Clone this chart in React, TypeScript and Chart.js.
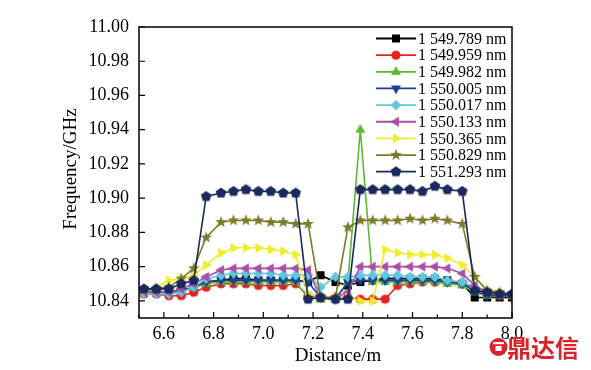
import React, { useEffect, useRef } from 'react';
import { Chart, registerables } from 'chart.js';

Chart.register(...registerables);

// Distance (m)
const distances = [6.52, 6.57, 6.62, 6.67, 6.72, 6.77, 6.83, 6.88, 6.93, 6.98, 7.03, 7.08, 7.13, 7.18, 7.23, 7.29, 7.34, 7.39, 7.44, 7.49, 7.54, 7.59, 7.64, 7.69, 7.74, 7.80, 7.85, 7.90, 7.95, 8.00];

const seriesLabels = ['1 549.789 nm', '1 549.959 nm', '1 549.982 nm', '1 550.005 nm', '1 550.017 nm', '1 550.133 nm', '1 550.365 nm', '1 550.829 nm', '1 551.293 nm'];

const s1549_789 = [10.845, 10.845, 10.845, 10.846, 10.848, 10.851, 10.852, 10.853, 10.853, 10.852, 10.852, 10.852, 10.852, 10.851, 10.855, 10.851, 10.849, 10.851, 10.852, 10.853, 10.853, 10.853, 10.853, 10.853, 10.852, 10.850, 10.842, 10.842, 10.842, 10.842];
const s1549_959 = [10.844, 10.844, 10.843, 10.843, 10.845, 10.848, 10.850, 10.850, 10.850, 10.849, 10.849, 10.849, 10.850, 10.843, 10.842, 10.842, 10.842, 10.841, 10.841, 10.841, 10.849, 10.850, 10.851, 10.851, 10.851, 10.850, 10.847, 10.844, 10.843, 10.843];
const s1549_982 = [10.845, 10.845, 10.845, 10.846, 10.848, 10.850, 10.851, 10.851, 10.851, 10.851, 10.851, 10.851, 10.851, 10.842, 10.841, 10.841, 10.851, 10.940, 10.851, 10.851, 10.851, 10.851, 10.851, 10.851, 10.850, 10.849, 10.845, 10.843, 10.843, 10.843];
const s1550_005 = [10.845, 10.845, 10.845, 10.846, 10.848, 10.851, 10.852, 10.852, 10.852, 10.852, 10.852, 10.852, 10.852, 10.851, 10.842, 10.841, 10.851, 10.852, 10.852, 10.852, 10.852, 10.852, 10.852, 10.852, 10.851, 10.850, 10.846, 10.843, 10.843, 10.843];
const s1550_017 = [10.844, 10.844, 10.844, 10.845, 10.848, 10.853, 10.855, 10.856, 10.856, 10.856, 10.856, 10.855, 10.855, 10.855, 10.848, 10.854, 10.854, 10.855, 10.855, 10.855, 10.855, 10.854, 10.854, 10.854, 10.852, 10.851, 10.848, 10.845, 10.844, 10.844];
const s1550_133 = [10.845, 10.845, 10.845, 10.847, 10.850, 10.854, 10.858, 10.859, 10.859, 10.859, 10.859, 10.859, 10.859, 10.858, 10.842, 10.842, 10.845, 10.860, 10.860, 10.860, 10.860, 10.860, 10.860, 10.860, 10.859, 10.856, 10.849, 10.845, 10.844, 10.844];
const s1550_365 = [10.846, 10.848, 10.852, 10.853, 10.855, 10.861, 10.868, 10.871, 10.871, 10.871, 10.870, 10.869, 10.867, 10.844, 10.842, 10.842, 10.842, 10.840, 10.840, 10.870, 10.868, 10.867, 10.867, 10.867, 10.865, 10.861, 10.854, 10.846, 10.845, 10.844];
const s1550_829 = [10.846, 10.847, 10.848, 10.853, 10.859, 10.877, 10.886, 10.887, 10.887, 10.887, 10.886, 10.886, 10.885, 10.885, 10.842, 10.842, 10.883, 10.887, 10.887, 10.887, 10.887, 10.888, 10.887, 10.888, 10.887, 10.885, 10.854, 10.846, 10.845, 10.844];
const s1551_293 = [10.847, 10.847, 10.847, 10.850, 10.852, 10.901, 10.903, 10.904, 10.905, 10.904, 10.904, 10.903, 10.903, 10.841, 10.842, 10.841, 10.841, 10.905, 10.905, 10.905, 10.905, 10.905, 10.904, 10.907, 10.905, 10.904, 10.846, 10.845, 10.844, 10.844];

const seriesValues = [s1549_789, s1549_959, s1549_982, s1550_005, s1550_017, s1550_133, s1550_365, s1550_829, s1551_293];
const seriesColors = ['#000000', '#e8211c', '#5db832', '#1c3f94', '#5ec8dc', '#a94ea8', '#eeee2e', '#7b7b2b', '#1b2a5c'];
const seriesMarkers = ['square', 'circle', 'triangle', 'down', 'diamond', 'left', 'right', 'star', 'pentagon'];

const xTicks = [6.6, 6.8, 7.0, 7.2, 7.4, 7.6, 7.8, 8.0];
const xMinorTicks = [6.5, 6.7, 6.9, 7.1, 7.3, 7.5, 7.7, 7.9];
const yTicks = [10.84, 10.86, 10.88, 10.90, 10.92, 10.94, 10.96, 10.98, 11.0];

const xTitle = 'Distance/m';
const yTitle = 'Frequency/GHz';
const watermark = '鼎达信';

const SERIF = '"Liberation Serif", "Times New Roman", serif';

function makeMarker(kind: string, color: string): HTMLCanvasElement {
  const size = 14;
  const c = document.createElement('canvas');
  c.width = size;
  c.height = size;
  const ctx = c.getContext('2d')!;
  const cx = size / 2;
  const cy = size / 2;
  ctx.fillStyle = color;
  ctx.beginPath();
  const poly = (n: number, r: number, startDeg: number) => {
    for (let i = 0; i < n; i++) {
      const a = ((startDeg + (360 / n) * i) * Math.PI) / 180;
      const px = cx + r * Math.cos(a);
      const py = cy + r * Math.sin(a);
      if (i === 0) ctx.moveTo(px, py);
      else ctx.lineTo(px, py);
    }
    ctx.closePath();
  };
  switch (kind) {
    case 'square':
      ctx.rect(cx - 4, cy - 4, 8, 8);
      break;
    case 'circle':
      ctx.arc(cx, cy, 4.6, 0, Math.PI * 2);
      break;
    case 'triangle':
      poly(3, 5.8, -90);
      break;
    case 'down':
      poly(3, 5.8, 90);
      break;
    case 'left':
      poly(3, 5.8, 180);
      break;
    case 'right':
      poly(3, 5.8, 0);
      break;
    case 'diamond':
      poly(4, 5.2, -90);
      break;
    case 'pentagon':
      poly(5, 5.6, -90);
      break;
    case 'star': {
      for (let i = 0; i < 10; i++) {
        const r = i % 2 === 0 ? 6.2 : 2.6;
        const a = ((-90 + 36 * i) * Math.PI) / 180;
        const px = cx + r * Math.cos(a);
        const py = cy + r * Math.sin(a);
        if (i === 0) ctx.moveTo(px, py);
        else ctx.lineTo(px, py);
      }
      ctx.closePath();
      break;
    }
  }
  ctx.fill();
  return c;
}

export default function App() {
  const canvasRef = useRef<HTMLCanvasElement | null>(null);

  useEffect(() => {
    const canvas = canvasRef.current;
    if (!canvas) return;
    const markers = seriesMarkers.map((m, i) => makeMarker(m, seriesColors[i]));

    const datasets = seriesValues.map((vals, i) => ({
      label: seriesLabels[i],
      data: distances.map((d, k) => ({ x: d, y: vals[k] })),
      borderColor: seriesColors[i],
      backgroundColor: seriesColors[i],
      borderWidth: 1.6,
      pointStyle: markers[i] as any,
      pointRadius: 5,
      tension: 0,
      order: seriesValues.length - 1 - i,
    }));

    const decor = {
      id: 'decor',
      afterDraw(chart: any) {
        const { ctx, chartArea: a, scales } = chart;
        const xs = scales.x;
        const ys = scales.y;
        ctx.save();
        // frame
        ctx.strokeStyle = '#000';
        ctx.lineWidth = 1.5;
        ctx.strokeRect(a.left, a.top, a.right - a.left, a.bottom - a.top);
        // inward ticks
        ctx.lineWidth = 1.2;
        ctx.beginPath();
        for (const v of xTicks) {
          const px = xs.getPixelForValue(v);
          ctx.moveTo(px, a.bottom);
          ctx.lineTo(px, a.bottom - 6);
        }
        for (const v of xMinorTicks) {
          const px = xs.getPixelForValue(v);
          ctx.moveTo(px, a.bottom);
          ctx.lineTo(px, a.bottom - 3.5);
        }
        for (const v of yTicks) {
          const py = ys.getPixelForValue(v);
          ctx.moveTo(a.left, py);
          ctx.lineTo(a.left + 6, py);
        }
        ctx.stroke();

        // legend
        ctx.font = `16px ${SERIF}`;
        ctx.textBaseline = 'middle';
        ctx.textAlign = 'left';
        seriesLabels.forEach((lab, i) => {
          const y = 38.5 + i * 16.65;
          ctx.strokeStyle = seriesColors[i];
          ctx.lineWidth = 1.8;
          ctx.beginPath();
          ctx.moveTo(376, y);
          ctx.lineTo(416, y);
          ctx.stroke();
          const m = markers[i];
          ctx.drawImage(m, 396 - m.width / 2, y - m.height / 2);
          ctx.fillStyle = '#000';
          ctx.fillText(lab, 418, y + 1);
        });

        // axis titles
        ctx.fillStyle = '#000';
        ctx.font = `19px ${SERIF}`;
        ctx.textAlign = 'center';
        ctx.textBaseline = 'middle';
        ctx.fillText(xTitle, 338, 356);
        ctx.save();
        ctx.translate(71, 169);
        ctx.rotate(-Math.PI / 2);
        ctx.fillText(yTitle, 0, 0);
        ctx.restore();

        // watermark
        ctx.fillStyle = '#d9232a';
        ctx.beginPath();
        ctx.arc(498.5, 347, 9, 0, Math.PI * 2);
        ctx.fill();
        ctx.fillStyle = '#fff';
        ctx.fillRect(493, 342, 11, 2.2);
        ctx.fillRect(495.5, 346, 6, 5);
        ctx.fillStyle = '#d9232a';
        ctx.font = `bold 24px "Noto Sans CJK SC", sans-serif`;
        ctx.textAlign = 'left';
        ctx.fillText(watermark, 507, 348);
        ctx.restore();
      },
    };

    const chart = new Chart(canvas, {
      type: 'line',
      data: { datasets },
      plugins: [decor],
      options: {
        animation: false,
        responsive: false,
        maintainAspectRatio: false,
        devicePixelRatio: 1,
        layout: { padding: { left: 0, top: 27, right: 79, bottom: 0 } },
        plugins: {
          legend: { display: false },
          tooltip: { enabled: false },
          title: { display: false },
        },
        scales: {
          x: {
            type: 'linear',
            min: 6.5,
            max: 8.0,
            grid: { display: false, drawTicks: false },
            border: { display: false },
            afterBuildTicks: (s: any) => {
              s.ticks = xTicks.map((v) => ({ value: v }));
            },
            afterFit: (s: any) => {
              s.height = 52;
            },
            ticks: {
              autoSkip: false,
              maxRotation: 0,
              padding: 5,
              color: '#000',
              font: { family: SERIF, size: 18 },
              callback: (v: any) => Number(v).toFixed(1),
            },
          },
          y: {
            type: 'linear',
            min: 10.83,
            max: 11.0,
            grid: { display: false, drawTicks: false },
            border: { display: false },
            afterBuildTicks: (s: any) => {
              s.ticks = yTicks.map((v) => ({ value: v }));
            },
            afterFit: (s: any) => {
              s.width = 139;
            },
            ticks: {
              autoSkip: false,
              padding: 10,
              color: '#000',
              font: { family: SERIF, size: 18 },
              callback: (v: any) => Number(v).toFixed(2),
            },
          },
        },
      },
    });
    return () => chart.destroy();
  }, []);

  return (
    <div style={{ position: 'absolute', left: 0, top: 0, width: 591, height: 370, background: '#fff' }}>
      <canvas ref={canvasRef} width={591} height={370} style={{ width: 591, height: 370, display: 'block' }} />
    </div>
  );
}
